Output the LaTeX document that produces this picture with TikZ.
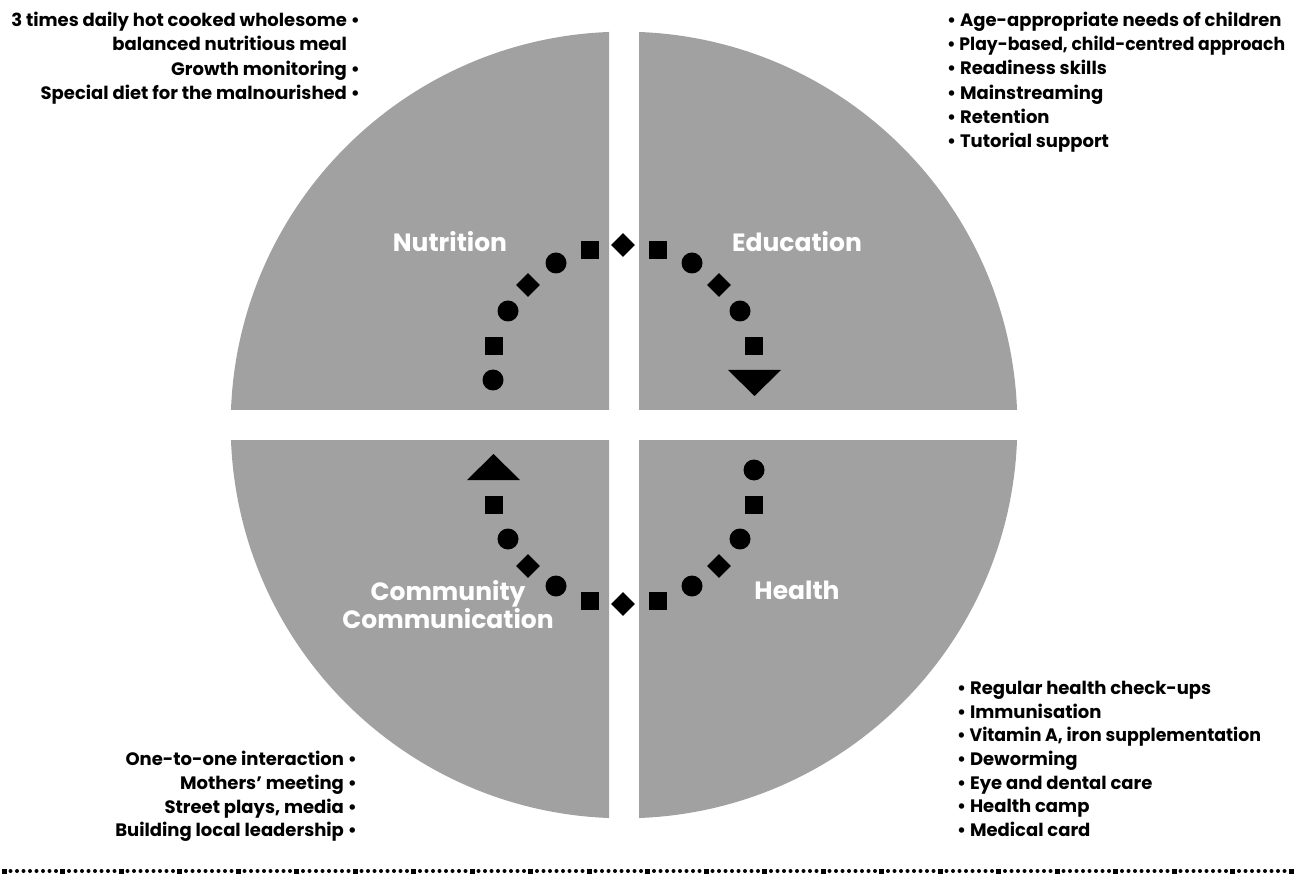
\documentclass[tikz,border=0pt]{standalone}
\usepackage{fontspec}
\setmainfont{Poppins}
\usetikzlibrary{shapes.geometric}
\definecolor{quad}{RGB}{160,161,160}
\tikzset{
  lst/.style={font=\bfseries\fontsize{18}{20}\selectfont, inner sep=0},
  lbl/.style={font=\bfseries\fontsize{25}{28}\selectfont, text=white, inner sep=0, align=center},
  dotc/.style={circle, fill=black, minimum size=21pt, inner sep=0},
  sqm/.style={rectangle, fill=black, minimum size=18pt, inner sep=0},
  dia/.style={diamond, fill=black, minimum size=24pt, inner sep=0},
  tinyc/.style={circle, fill=black, minimum size=4pt, inner sep=0},
  tinys/.style={rectangle, fill=black, minimum size=5pt, inner sep=0},
}
\begin{document}
\begin{tikzpicture}[x=1pt,y=-1pt]
\useasboundingbox (0,0) rectangle (1296,874);
% quadrants
\begin{scope}\clip (0,0) rectangle (609,410); \fill[quad] (624,425) circle[radius=393.3pt]; \end{scope}
\begin{scope}\clip (639,0) rectangle (1296,410); \fill[quad] (624,425) circle[radius=393.3pt]; \end{scope}
\begin{scope}\clip (0,440) rectangle (609,874); \fill[quad] (624,425) circle[radius=393.3pt]; \end{scope}
\begin{scope}\clip (639,440) rectangle (1296,874); \fill[quad] (624,425) circle[radius=393.3pt]; \end{scope}
% labels
\node[lbl] (nut) at (450,242) {Nutrition};
\node[lbl] (edu) at (797,242) {Education};
\node[lbl] (hea) at (797,590) {Health};
\node[lbl] (com) at (448,605) {Community\\Communication};
% top markers
\node[dia] (t0) at (623,245) {};
\node[sqm] (tr1) at (658,250) {};
\node[dotc] (tr2) at (692,263) {};
\node[dia] (tr3) at (719,285) {};
\node[dotc] (tr4) at (740,311) {};
\node[sqm] (tr5) at (754,346) {};
\fill (728,370) -- (781,370) -- (754.5,396) -- cycle;
\node[sqm] (tl1) at (590,250) {};
\node[dotc] (tl2) at (556,263) {};
\node[dia] (tl3) at (528,285) {};
\node[dotc] (tl4) at (508,311) {};
\node[sqm] (tl5) at (494,346) {};
\node[dotc] (tl6) at (493,380) {};
% bottom markers
\fill (467,480) -- (520,480) -- (493.5,454) -- cycle;
\node[sqm] (bl5) at (494,505) {};
\node[dotc] (bl4) at (508,539) {};
\node[dia] (bl3) at (528,566) {};
\node[dotc] (bl2) at (556,586) {};
\node[sqm] (bl1) at (590,601) {};
\node[dia] (b0) at (623,604) {};
\node[sqm] (br1) at (658,601) {};
\node[dotc] (br2) at (692,586) {};
\node[dia] (br3) at (719,566) {};
\node[dotc] (br4) at (740,539) {};
\node[sqm] (br5) at (754,505) {};
\node[dotc] (br6) at (754,470) {};
% top-left list
\node[lst, anchor=base east] (n1) at (360,26.5) {3 times daily hot cooked wholesome •};
\node[lst, anchor=base east] (n2) at (360,51) {balanced nutritious meal\phantom{ •}};
\node[lst, anchor=base east] (n3) at (360,75.5) {Growth monitoring •};
\node[lst, anchor=base east] (n4) at (360,100) {Special diet for the malnourished •};
% top-right list
\node[lst, anchor=base west] (e1) at (947,26.5) {• Age-appropriate needs of children};
\node[lst, anchor=base west] (e2) at (947,50.7) {\scalebox{0.955}[1]{• Play-based, child-centred approach}};
\node[lst, anchor=base west] (e3) at (947,74.9) {• Readiness skills};
\node[lst, anchor=base west] (e4) at (947,99.1) {• Mainstreaming};
\node[lst, anchor=base west] (e5) at (947,123.3) {• Retention};
\node[lst, anchor=base west] (e6) at (947,147.5) {• Tutorial support};
% bottom-right list
\node[lst, anchor=base west] (h1) at (957,694.5) {• Regular health check-ups};
\node[lst, anchor=base west] (h2) at (957,718.2) {• Immunisation};
\node[lst, anchor=base west] (h3) at (957,741.8) {\scalebox{0.965}[1]{• Vitamin A, iron supplementation}};
\node[lst, anchor=base west] (h4) at (957,765.5) {• Deworming};
\node[lst, anchor=base west] (h5) at (957,789.2) {• Eye and dental care};
\node[lst, anchor=base west] (h6) at (957,812.8) {• Health camp};
\node[lst, anchor=base west] (h7) at (957,836.5) {• Medical card};
% bottom-left list
\node[lst, anchor=base east] (c1) at (357,765.5) {One-to-one interaction •};
\node[lst, anchor=base east] (c2) at (357,789.5) {Mothers’ meeting •};
\node[lst, anchor=base east] (c3) at (357,813) {Street plays, media •};
\node[lst, anchor=base east] (c4) at (357,836.5) {Building local leadership •};
% bottom border
\foreach \i in {0,...,198} {
  \node[tinyc] (bc\i) at (4+\i*6.5,871) {};
}
\foreach \i in {0,9,...,198} {
  \node[tinys] (bs\i) at (4+\i*6.5,871) {};
}
\end{tikzpicture}
\end{document}
